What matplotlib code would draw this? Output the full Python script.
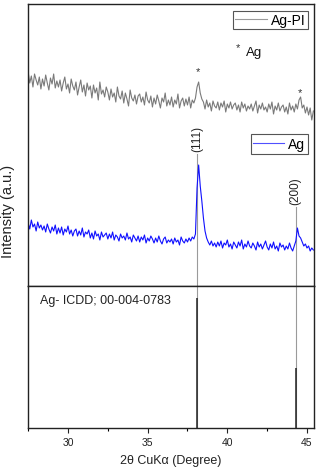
import numpy as np
import matplotlib
matplotlib.use("Agg")
import matplotlib.pyplot as plt
from matplotlib.lines import Line2D
from matplotlib.ticker import MultipleLocator

plt.rcParams['font.family'] = ['Liberation Sans', 'DejaVu Sans']

# ---- data ----
two_theta = np.round(np.arange(275, 455) / 10.0, 1)   # 27.5 ... 45.4, step 0.1

ag_pi = [
    214, 203, 210, 199, 212, 206, 201, 209, 197, 207,
    200, 211, 203, 196, 208, 202, 212, 198, 205, 199,
    206, 195, 203, 209, 197, 202, 193, 207, 200, 196,
    204, 191, 199, 206, 194, 201, 190, 203, 196, 200,
    188, 201, 193, 198, 186, 204, 192, 196, 189, 199,
    194, 186, 197, 189, 193, 184, 199, 190, 187, 195,
    183, 193, 187, 180, 196, 188, 185, 191, 182, 190,
    192, 184, 189, 181, 194, 186, 183, 190, 179, 188,
    182, 191, 185, 178, 188, 184, 193, 180, 186, 181,
    189, 179, 186, 182, 192, 178, 185, 188, 180, 187,
    181, 189, 178, 186, 183, 188, 199, 204, 193, 187,
    184, 177, 186, 179, 183, 175, 185, 180, 178, 184,
    176, 183, 179, 185, 174, 182, 178, 184, 177, 181,
    183, 176, 181, 174, 184, 178, 182, 175, 180, 177,
    182, 175, 180, 185, 173, 181, 177, 183, 176, 179,
    174, 182, 177, 184, 172, 180, 176, 183, 175, 179,
    181, 174, 179, 172, 183, 176, 180, 174, 182, 177,
    186, 189, 178, 181, 173, 179, 171, 178, 166, 175,
]

ag = [
    63, 57, 66, 59, 62, 55, 64, 58, 61, 56,
    60, 54, 62, 57, 53, 59, 55, 61, 52, 58,
    53, 59, 51, 57, 54, 60, 52, 56, 50, 55,
    57, 50, 55, 51, 58, 49, 54, 52, 56, 48,
    53, 47, 55, 50, 52, 46, 54, 49, 51, 53,
    47, 52, 48, 54, 46, 51, 49, 45, 52, 48,
    50, 46, 53, 47, 49, 44, 51, 48, 45, 50,
    44, 49, 46, 51, 43, 48, 45, 50, 47, 43,
    48, 44, 50, 45, 42, 47, 49, 43, 46, 44,
    47, 42, 48, 44, 46, 41, 49, 45, 43, 47,
    44, 48, 45, 49, 47, 52, 98, 121, 100, 85,
    68, 55, 48, 44, 41, 45, 40, 43, 39, 44,
    40, 45, 38, 43, 41, 46, 39, 42, 37, 44,
    41, 38, 44, 40, 46, 37, 42, 39, 45, 40,
    38, 43, 40, 36, 44, 39, 42, 37, 41, 45,
    39, 36, 42, 38, 44, 37, 40, 35, 43, 39,
    41, 36, 40, 37, 43, 38, 35, 40, 45, 58,
    50, 48, 44, 40, 42, 38, 40, 35, 38, 36,
]

icdd_pos = [38.12, 44.28]
icdd_int = [100, 46]
hkl_labels = ['(111)', '(200)']
hkl_label_y = [148.5, 96]
hkl_line_top = [132, 79]
star_pos = [38.16, 44.56]
star_y = [212, 191]

# ---- figure ----
fig = plt.figure(figsize=(3.21, 4.77), dpi=100)
ax1 = fig.add_axes([28/321, (477-287)/477, 286/321, 282/477])
ax2 = fig.add_axes([28/321, (477-429)/477, 286/321, 142/477], sharex=ax1)

xlim = (27.49, 45.44)
for ax in (ax1, ax2):
    for s in ax.spines.values():
        s.set_linewidth(1.0)
        s.set_color('#222222')
    ax.set_yticks([])

ax1.set_xlim(*xlim)
ax1.set_ylim(0, 282)
ax1.tick_params(axis='x', which='both', bottom=False, labelbottom=False)

# reference lines in upper panel
for p, top in zip(icdd_pos, hkl_line_top):
    ax1.plot([p, p], [0, top], color='#9a9a9a', lw=0.8, zorder=1)

ax1.plot(two_theta, ag_pi, color='#7a7a7a', lw=0.8, zorder=2)
ax1.plot(two_theta, ag, color='#1010ff', lw=0.8, zorder=2)

for p, lab, yy in zip(icdd_pos, hkl_labels, hkl_label_y):
    ax1.text(p, yy, lab, rotation=90, ha='center', va='center', fontsize=8.5, color='#222222')

for p, yy in zip(star_pos, star_y):
    ax1.text(p, yy, '*', ha='center', va='baseline', fontsize=8, color='#333333')
ax1.text(40.67, 235.5, '*', ha='center', va='baseline', fontsize=8, color='#333333')
ax1.text(41.17, 231, 'Ag', ha='left', va='baseline', fontsize=9.5, color='#111111')

h1 = Line2D([], [], color='#9a9a9a', lw=0.8)
h2 = Line2D([], [], color='#5050ff', lw=0.8)
leg1 = ax1.legend([h1], ['Ag-PI'], loc='upper right', bbox_to_anchor=(0.979, 0.975),
                  fontsize=10, handlelength=2.3, handletextpad=0.3, borderpad=0.15,
                  borderaxespad=0, fancybox=False, framealpha=1, edgecolor='#555555')
leg1.get_frame().set_linewidth(0.8)
ax1.add_artist(leg1)
leg2 = ax1.legend([h2], ['Ag'], loc='upper right', bbox_to_anchor=(0.979, 0.539),
                  fontsize=10, handlelength=2.2, handletextpad=0.3, borderpad=0.2,
                  borderaxespad=0, fancybox=False, framealpha=1, edgecolor='#555555')
leg2.get_frame().set_linewidth(0.8)

# lower panel: ICDD sticks
ax2.set_ylim(0, 109.3)
for p in icdd_pos:
    ax2.plot([p, p], [0, 109.3], color='#9a9a9a', lw=0.8, zorder=1)
ax2.vlines(icdd_pos, 0, icdd_int, color='#222222', lw=1.1, zorder=2)
ax2.text(0.042, 0.903, 'Ag- ICDD; 00-004-0783', transform=ax2.transAxes,
         ha='left', va='center', fontsize=9, color='#222222')

ax2.xaxis.set_major_locator(MultipleLocator(5))
ax2.xaxis.set_minor_locator(MultipleLocator(2.5))
ax2.tick_params(axis='x', which='major', direction='out', length=3.5, width=0.8,
                labelsize=7.5, pad=3, colors='#222222')
ax2.tick_params(axis='x', which='minor', direction='out', length=2.5, width=0.8)
ax2.set_xlim(*xlim)
ax2.set_xlabel('2θ CuKα (Degree)', fontsize=9, labelpad=5, color='#222222')

fig.text(8.5/321, (477-211.5)/477, 'Intensity (a.u.)', rotation=90,
         ha='center', va='center', fontsize=10.5, color='#222222')

fig.savefig('out.png', dpi=100)
